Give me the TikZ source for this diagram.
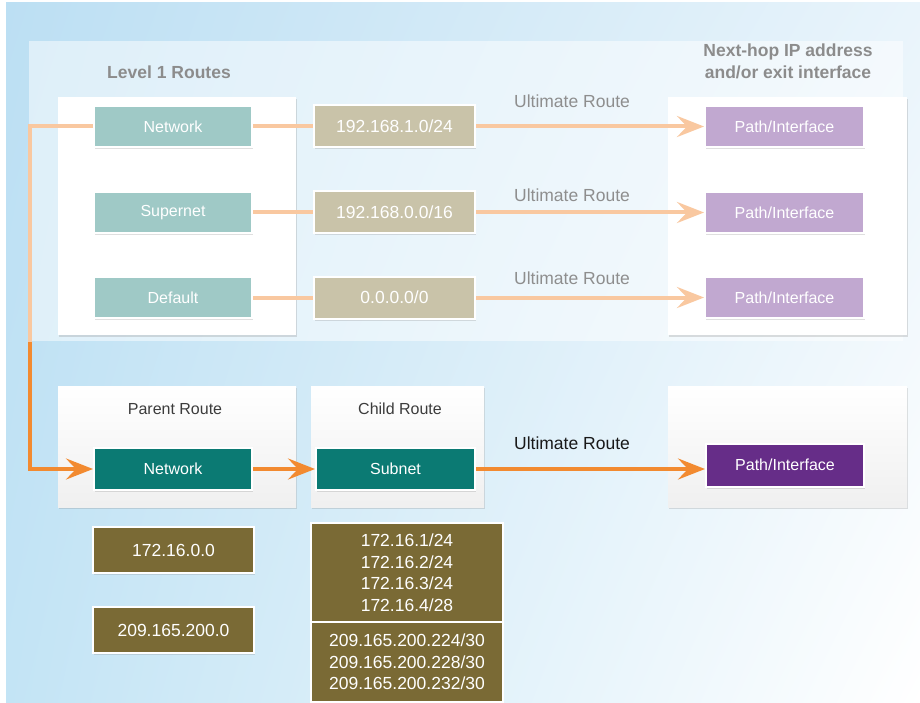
\documentclass[tikz,border=0pt]{standalone}
\usepackage{fontspec}
\setmainfont{Liberation Sans}
\usetikzlibrary{arrows.meta,shadows,shadings}
\definecolor{bgA}{HTML}{BCDFF3}
\definecolor{bgB}{HTML}{E9F4FB}
\definecolor{bgC}{HTML}{C3E4F5}
\definecolor{bgD}{HTML}{FFFFFF}
\definecolor{liteteal}{HTML}{9FC9C6}
\definecolor{litetan}{HTML}{C9C3A9}
\definecolor{litepurple}{HTML}{C1A8D0}
\definecolor{liteorange}{HTML}{F9C8A0}
\definecolor{darkteal}{HTML}{0B7A73}
\definecolor{olive}{HTML}{7A6A35}
\definecolor{darkpurple}{HTML}{662D88}
\definecolor{hotorange}{HTML}{F28A30}
\definecolor{headgray}{HTML}{8C8C8C}
\definecolor{labelgray}{HTML}{8E8E8E}
\definecolor{darktext}{HTML}{3C3C3C}
\begin{document}
\begin{tikzpicture}[x=1pt,y=-1pt,
  shad/.style={drop shadow={opacity=0.25,shadow xshift=1pt,shadow yshift=-2pt}},
  panelbox/.style={fill=white,inner sep=0pt,shad},
  gradbox/.style={top color=white,bottom color=black!6,inner sep=0pt,shad},
  sbox/.style={draw=white,line width=2pt,minimum width=158pt,minimum height=41pt,inner sep=0pt,text=white,font=\fontsize{16}{19}\selectfont,shad},
  numbox/.style={sbox,minimum width=161pt,minimum height=42pt,font=\fontsize{17.5}{21}\selectfont},
  obox/.style={sbox,fill=olive,minimum width=161pt,minimum height=46pt,font=\fontsize{17.5}{21}\selectfont},
  listbox/.style={sbox,fill=olive,minimum width=192pt,align=center,font=\fontsize{17.5}{21.5}\selectfont},
  heading/.style={text=headgray,font=\fontsize{17.5}{22}\selectfont\bfseries,align=center,inner sep=0pt},
  ultlabel/.style={text=labelgray,font=\fontsize{17.5}{21}\selectfont,inner sep=0pt},
  boxtitle/.style={text=darktext,font=\fontsize{16}{19}\selectfont,inner sep=0pt},
  lite/.style={draw=liteorange,line width=4pt},
  litearrow/.style={lite,-{Stealth[length=27pt,width=21pt,inset=10pt,color=liteorange]}},
  hot/.style={draw=hotorange,line width=4pt},
  hotarrow/.style={hot,-{Stealth[length=27pt,width=21pt,inset=10pt,color=hotorange]}}
]
\useasboundingbox (0,0) rectangle (920,703);
% background
\fill[white] (0,0) rectangle (920,703);
\shade[upper left=bgA,upper right=bgB,lower left=bgC,lower right=bgD] (6,3) rectangle (920,703);
\fill[white,opacity=0.5] (29,41) rectangle (903,341);

% headings
\node[heading] (lvl) at (169,72) {Level 1 Routes};
\node[heading] (nexthop) at (788,61) {Next-hop IP address\\and/or exit interface};

% top white panels
\node[panelbox,minimum width=238pt,minimum height=238pt] (wl) at (177,216) {};
\node[panelbox,minimum width=239pt,minimum height=238pt] (wr) at (787.5,216) {};

% top row boxes
\node[sbox,fill=liteteal] (net1) at (173,126.5) {Network};
\node[sbox,fill=liteteal] (sup) at (173,212.5) {Supernet};
\node[sbox,fill=liteteal] (def) at (173,297.5) {Default};
\node[numbox,fill=litetan] (ip1) at (394.5,126.5) {192.168.1.0/24};
\node[numbox,fill=litetan] (ip2) at (394.5,212.5) {192.168.0.0/16};
\node[numbox,fill=litetan] (ip3) at (394.5,297.5) {0.0.0.0/0};
\node[sbox,fill=litepurple,minimum width=159pt] (path1) at (784.5,126.5) {Path/Interface};
\node[sbox,fill=litepurple,minimum width=159pt] (path2) at (784.5,212.5) {Path/Interface};
\node[sbox,fill=litepurple,minimum width=159pt] (path3) at (784.5,297.5) {Path/Interface};

\node[ultlabel] (u1) at (572,101) {Ultimate Route};
\node[ultlabel] (u2) at (572,195) {Ultimate Route};
\node[ultlabel] (u3) at (572,278) {Ultimate Route};

% bottom panels
\node[gradbox,minimum width=238pt,minimum height=121pt] (parent) at (177,446.5) {};
\node[gradbox,minimum width=173pt,minimum height=121pt] (child) at (397.5,446.5) {};
\node[gradbox,minimum width=239pt,minimum height=121pt] (rightb) at (787.5,446.5) {};
\node[boxtitle] (pt) at (175,409) {Parent Route};
\node[boxtitle] (ct) at (400,409) {Child Route};

\node[sbox,fill=darkteal,minimum height=42pt] (netB) at (173,469) {Network};
\node[sbox,fill=darkteal,minimum width=159pt,minimum height=42pt] (subB) at (395.5,469) {Subnet};
\node[sbox,fill=darkpurple,minimum height=43pt] (pathB) at (785,465) {Path/Interface};
\node[ultlabel,text=black!90] (u4) at (572,443) {Ultimate Route};

% olive boxes
\node[obox] (o1) at (173.5,550) {172.16.0.0};
\node[obox] (o2) at (173.5,630) {209.165.200.0};
\node[listbox,minimum height=99pt] (l1) at (407,572.5) {172.16.1/24\\172.16.2/24\\172.16.3/24\\172.16.4/28};
\node[listbox,minimum height=80pt] (l2) at (407,662) {209.165.200.224/30\\209.165.200.228/30\\209.165.200.232/30};

% connectors
\coordinate (bend) at (30,342);
\draw[lite] (net1.west) -| (bend);
\draw[hotarrow] (bend) |- (netB.west);
\draw[lite] (net1.east) -- (ip1.west);
\draw[lite] (sup.east) -- (ip2.west);
\draw[lite] (def.east) -- (ip3.west);
\draw[litearrow] (ip1.east) -- (path1.west);
\draw[litearrow] (ip2.east) -- (path2.west);
\draw[litearrow] (ip3.east) -- (path3.west);
\draw[hotarrow] (netB.east) -- (subB.west);
\draw[hotarrow] (subB.east) -- (subB.east -| pathB.west);
\end{tikzpicture}
\end{document}
